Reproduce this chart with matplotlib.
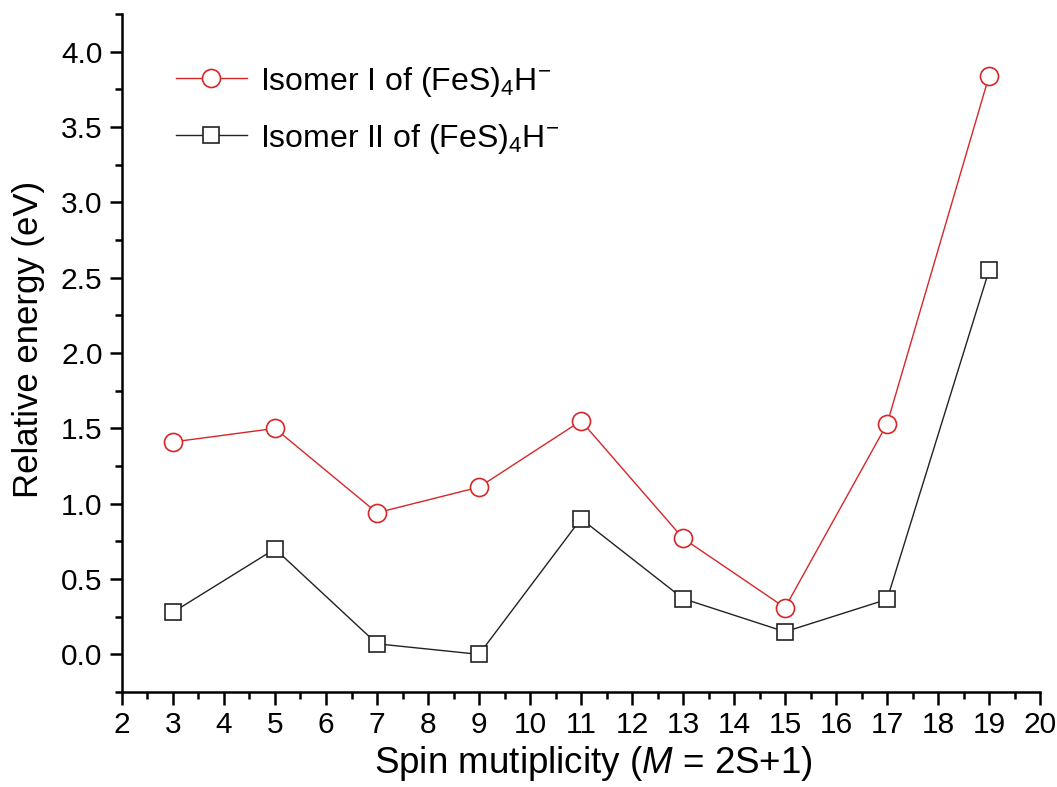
import matplotlib
matplotlib.use('Agg')
import matplotlib.pyplot as plt
from matplotlib.ticker import MultipleLocator

plt.rcParams['font.family'] = ['Liberation Sans', 'DejaVu Sans']
plt.rcParams['mathtext.fontset'] = 'custom'
plt.rcParams['mathtext.rm'] = 'Liberation Sans'
plt.rcParams['mathtext.it'] = 'Liberation Sans:italic'

# multiplicidad de espin
multiplicidad = [3, 5, 7, 9, 11, 13, 15, 17, 19]
isomero_1 = [1.41, 1.50, 0.94, 1.11, 1.55, 0.77, 0.31, 1.53, 3.84]
isomero_2 = [0.28, 0.70, 0.07, 0.00, 0.90, 0.37, 0.15, 0.365, 2.55]
etiquetas = ['Isomer I of (FeS)$_4$H$^{-}$', 'Isomer II of (FeS)$_4$H$^{-}$']

fig = plt.figure(figsize=(10.57, 7.87), dpi=100)
ax = fig.add_axes([0.1154, 0.1207, 0.8686, 0.8613])

ax.plot(multiplicidad, isomero_1, color='#d62728', lw=1, marker='o', ms=13,
        mfc='white', mec='#d62728', mew=1.2, label=etiquetas[0])
ax.plot(multiplicidad, isomero_2, color='#222222', lw=1, marker='s', ms=11,
        mfc='white', mec='#222222', mew=1.2, label=etiquetas[1])

ax.set_xlim(2, 20)
ax.set_ylim(-0.25, 4.25)
ax.xaxis.set_major_locator(MultipleLocator(1))
ax.xaxis.set_minor_locator(MultipleLocator(0.5))
ax.yaxis.set_major_locator(MultipleLocator(0.5))
ax.yaxis.set_minor_locator(MultipleLocator(0.25))
ax.yaxis.set_major_formatter(matplotlib.ticker.FormatStrFormatter('%.1f'))

for lado in ['top', 'right']:
    ax.spines[lado].set_visible(False)
for lado in ['left', 'bottom']:
    ax.spines[lado].set_linewidth(1.8)

ax.tick_params(which='major', direction='out', length=9, width=1.8, labelsize=21.5, pad=5)
ax.tick_params(which='minor', direction='out', length=5, width=1.8)

ax.set_xlabel('Spin mutiplicity ($\\it{M}$ = 2S+1)', fontsize=26.5)
ax.set_ylabel('Relative energy (eV)', fontsize=25)
ax.xaxis.set_label_coords(0.513, -0.076)
ax.yaxis.set_label_coords(-0.084, 0.52)

ax.legend(loc='upper left', bbox_to_anchor=(0.027, 0.968), frameon=False,
          fontsize=23, handlelength=2.25, handletextpad=0.4, labelspacing=0.72)

fig.savefig('out.png', dpi=100)
